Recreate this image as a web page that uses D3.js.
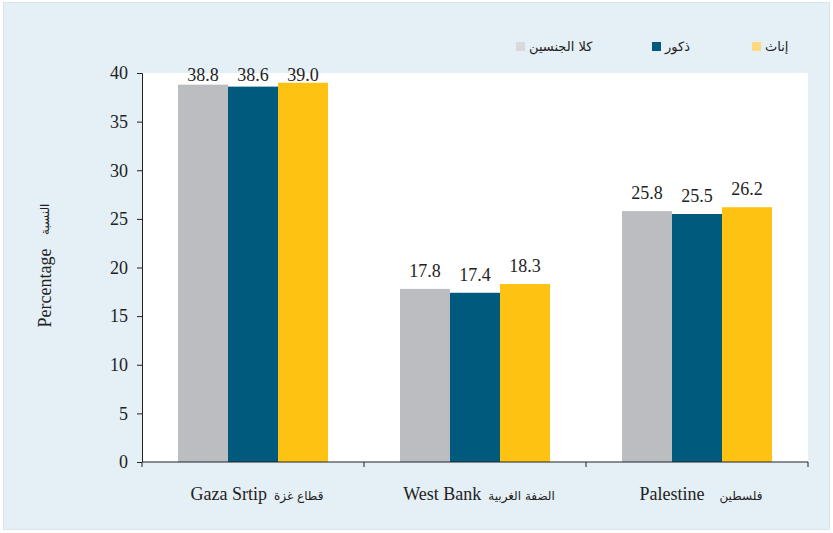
<!DOCTYPE html>
<html>
<head>
<meta charset="utf-8">
<script src="https://cdn.jsdelivr.net/npm/d3@7"></script>
<style>
  body { margin: 0; background: #fff; }
</style>
</head>
<body>
<div id="chart"></div>
<script>
const categories = ['Gaza Srtip', 'West Bank', 'Palestine']
const categoriesAr = ['قطاع غزة', 'الضفة الغربية', 'فلسطين']
const bothSexes = [38.8, 17.8, 25.8]
const males = [38.6, 17.4, 25.5]
const females = [39.0, 18.3, 26.2]
const seriesNames = ['كلا الجنسين', 'ذكور', 'إناث']
const yTicks = [0, 5, 10, 15, 20, 25, 30, 35, 40]

const colors = ['#bcbdc1', '#005a7d', '#fec312']
const legendColors = ['#d9d9db', '#005a7d', '#ffd880']
const serif = '"Liberation Serif", "Times New Roman", serif'
const arabic = '"DejaVu Sans", sans-serif'

const W = 833, H = 533
const margin = { top: 73, left: 142, right: 25, bottom: 71 }
const width = W - margin.left - margin.right
const height = H - margin.top - margin.bottom

const svg = d3.select('#chart').append('svg')
  .attr('width', W).attr('height', H)

svg.append('rect')
  .attr('x', 3.5).attr('y', 2.5)
  .attr('width', 826).attr('height', 527)
  .attr('fill', '#e4eff6').attr('stroke', '#c9d9e4').attr('stroke-width', 0.6)

const g = svg.append('g')
  .attr('transform', 'translate(' + margin.left + ',' + margin.top + ')')

g.append('rect').attr('width', width).attr('height', height).attr('fill', '#fff')

const series = [bothSexes, males, females]

const x0 = d3.scaleBand().domain(categories).range([0, width])
const x1 = d3.scaleBand().domain([0, 1, 2]).range([0, 150])
const y = d3.scaleLinear().domain([0, 40]).range([height, 0])

const groups = g.selectAll('.grp')
  .data(categories)
  .enter().append('g')
  .attr('class', 'grp')
  .attr('transform', d => 'translate(' + (x0(d) + (x0.bandwidth() - 150) / 2) + ',0)')

groups.selectAll('rect')
  .data((d, i) => series.map((s, k) => ({ k: k, v: s[i] })))
  .enter().append('rect')
  .attr('x', d => x1(d.k))
  .attr('width', x1.bandwidth())
  .attr('y', d => y(d.v))
  .attr('height', d => height - y(d.v))
  .attr('fill', d => colors[d.k])

groups.selectAll('.val')
  .data((d, i) => series.map((s, k) => ({ k: k, v: s[i] })))
  .enter().append('text')
  .attr('class', 'val')
  .attr('x', d => x1(d.k) + x1.bandwidth() / 2)
  .attr('y', d => Math.max(y(d.v) - 12, 8))
  .attr('text-anchor', 'middle')
  .attr('font-family', serif)
  .attr('font-size', 18)
  .attr('fill', '#222')
  .text(d => d.v.toFixed(1))

// axes
const yAxis = d3.axisLeft(y).tickValues(yTicks).tickSize(5).tickPadding(9)
const ya = g.append('g').call(yAxis)
ya.attr('font-family', serif)
ya.selectAll('text').attr('font-size', 18).attr('fill', '#222')
ya.selectAll('line, path').attr('stroke', '#222')
ya.select('.domain').attr('d', 'M-5,0.5H0.5V' + height)

const xa = g.append('g').attr('transform', 'translate(0,' + height + ')')
xa.append('line').attr('x1', 0).attr('x2', width).attr('stroke', '#222')
xa.selectAll('.tk')
  .data(d3.range(categories.length + 1))
  .enter().append('line')
  .attr('x1', i => i * x0.step()).attr('x2', i => i * x0.step())
  .attr('y1', 0).attr('y2', 5)
  .attr('stroke', '#222')

// category labels: English then Arabic, pair centred on the band
categories.forEach((c, i) => {
  const cx = x0(c) + x0.bandwidth() / 2
  const gap = i === 2 ? 15 : 7
  const lab = g.append('g')
  const en = lab.append('text').attr('font-family', serif).attr('font-size', 18).attr('fill', '#222')
    .attr('text-anchor', 'start').text(c)
  const ar = lab.append('text').attr('font-family', arabic).attr('font-size', 12).attr('fill', '#222')
    .attr('text-anchor', 'start').text(categoriesAr[i])
  const wEn = en.node().getComputedTextLength()
  const wAr = ar.node().getComputedTextLength()
  const left = cx - (wEn + gap + wAr) / 2 + 4
  en.attr('x', left)
  ar.attr('x', left + wEn + gap)
  lab.attr('transform', 'translate(0,' + (height + 38) + ')')
})

// y title
const yt = svg.append('g').attr('transform', 'translate(51,283) rotate(-90)')
yt.append('text').attr('font-family', serif).attr('font-size', 18).attr('fill', '#222')
  .attr('text-anchor', 'middle').attr('x', -5).text('Percentage')
yt.append('text').attr('font-family', arabic).attr('font-size', 12).attr('fill', '#222')
  .attr('text-anchor', 'start').attr('x', 48).attr('y', -2).text('النسبة')

// legend
const legendX = [516, 652, 752]
const lg = svg.append('g')
seriesNames.forEach((n, k) => {
  lg.append('rect').attr('x', legendX[k]).attr('y', 42).attr('width', 9).attr('height', 9).attr('fill', legendColors[k])
  lg.append('text').attr('font-family', arabic).attr('fill', '#222')
    .attr('x', legendX[k] + 13).attr('y', 51).attr('font-size', 13).text(n)
})
</script>
</body>
</html>
